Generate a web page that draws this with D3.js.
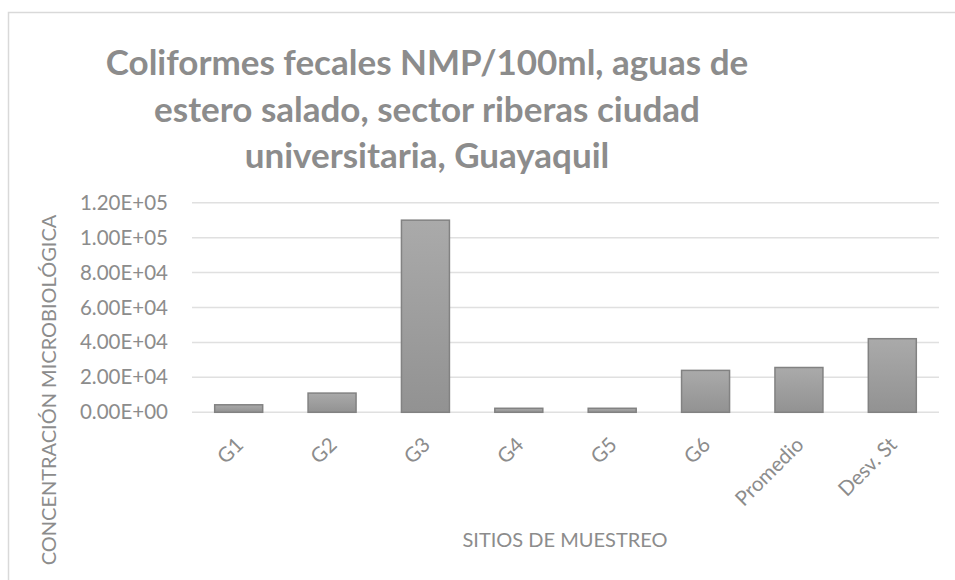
<!DOCTYPE html>
<html>
<head>
<meta charset="utf-8">
<script src="https://cdn.jsdelivr.net/npm/d3@7"></script>
<style>
  body { margin: 0; background: #fff; }
  svg { display: block; font-family: Lato, "Open Sans", sans-serif; }
</style>
</head>
<body>
<div id="chart"></div>
<script>
// Data
const sites = ["G1", "G2", "G3", "G4", "G5", "G6", "Promedio", "Desv. St"];
const values = [4300, 11000, 110000, 2300, 2300, 24000, 25650, 42140];
const yTicks = [0, 20000, 40000, 60000, 80000, 100000, 120000];
const titleLines = [
    "Coliformes fecales NMP/100ml, aguas de",
    "estero salado, sector riberas ciudad",
    "universitaria, Guayaquil"
];

const W = 955, H = 580;
const textColor = "#8c8c8c";

const svg = d3.select("#chart")
    .append("svg")
    .attr("width", W)
    .attr("height", H);

// bar gradient
const grad = svg.append("defs").append("linearGradient")
    .attr("id", "barGrad")
    .attr("x1", 0).attr("y1", 0).attr("x2", 0).attr("y2", 1);
grad.append("stop").attr("offset", "0%").attr("stop-color", "#aaaaaa");
grad.append("stop").attr("offset", "100%").attr("stop-color", "#929292");

// chart frame
svg.append("rect")
    .attr("x", 8.5).attr("y", 12.5)
    .attr("width", 1000).attr("height", 700)
    .attr("fill", "none")
    .attr("stroke", "#d9d9d9")
    .attr("stroke-width", 1.5);

// Scales
const x = d3.scaleBand()
    .domain(sites)
    .range([192, 939])
    .paddingInner(0.486)
    .paddingOuter(0.243);

const y = d3.scaleLinear()
    .domain([0, 120000])
    .range([412.3, 202.7]);

// gridlines
svg.append("g")
    .selectAll("line")
    .data(yTicks)
    .join("line")
    .attr("x1", 192).attr("x2", 939)
    .attr("y1", d => y(d)).attr("y2", d => y(d))
    .attr("stroke", "#e0e0e0")
    .attr("stroke-width", 1.5);

// y axis labels
const yAxis = svg.append("g")
    .attr("transform", "translate(168,0)")
    .call(d3.axisLeft(y).tickValues(yTicks).tickSize(0).tickPadding(0)
        .tickFormat(d => d.toExponential(2).replace("e", "E").replace(/E([+-])(\d)$/, "E$10$2")));
yAxis.select(".domain").remove();
yAxis.selectAll("text")
    .attr("fill", textColor)
    .style("font-size", "20.5px")
    .style("font-family", "Lato, sans-serif");

// Bars
svg.append("g")
    .selectAll("rect")
    .data(values)
    .join("rect")
    .attr("x", (d, i) => x(sites[i]))
    .attr("y", d => y(d))
    .attr("width", x.bandwidth())
    .attr("height", d => y(0) - y(d))
    .attr("fill", "url(#barGrad)")
    .attr("stroke", "#828282")
    .attr("stroke-width", 1.5);

// x axis labels
svg.append("g")
    .selectAll("text")
    .data(sites)
    .join("text")
    .attr("transform", d => `translate(${x(d) + x.bandwidth() / 2 + 6},446) rotate(-45)`)
    .attr("text-anchor", "end")
    .attr("fill", textColor)
    .style("font-size", "20.5px")
    .text(d => d);

// Title
svg.append("g")
    .selectAll("text")
    .data(titleLines)
    .join("text")
    .attr("x", 427)
    .attr("y", (d, i) => 75 + i * 46.7)
    .attr("text-anchor", "middle")
    .attr("fill", textColor)
    .style("font-size", "35px")
    .style("font-weight", "bold")
    .text(d => d);

// Axis titles
svg.append("text")
    .attr("x", 565).attr("y", 547)
    .attr("text-anchor", "middle")
    .attr("fill", textColor)
    .style("font-size", "20px")
    .text("SITIOS DE MUESTREO");

svg.append("text")
    .attr("transform", "translate(56,390) rotate(-90)")
    .attr("text-anchor", "middle")
    .attr("fill", textColor)
    .style("font-size", "20px")
    .text("CONCENTRACIÓN MICROBIOLÓGICA");
</script>
</body>
</html>
